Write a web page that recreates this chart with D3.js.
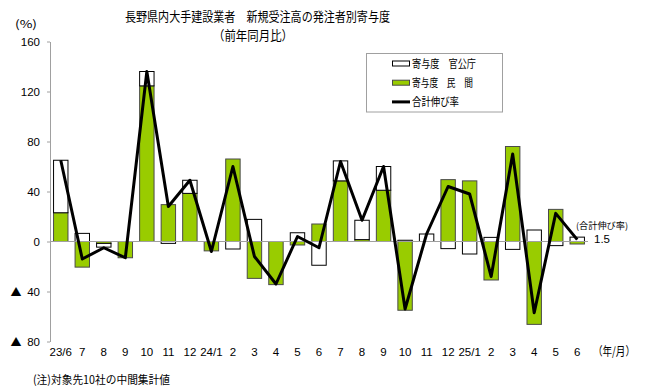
<!DOCTYPE html>
<html>
<head>
<meta charset="utf-8">
<script src="https://cdn.jsdelivr.net/npm/d3@7"></script>
<style>
body { margin: 0; background: #fff; }
svg { display: block; font-family: "Liberation Sans", "Noto Sans CJK JP", sans-serif; }
</style>
</head>
<body>
<div id="chart"></div>
<script>
// 年/月
const months = ["23/6", "7", "8", "9", "10", "11", "12", "24/1", "2", "3", "4", "5", "6",
    "7", "8", "9", "10", "11", "12", "25/1", "2", "3", "4", "5", "6"];
// 寄与度 民間
const privateContrib = [23, -20.5, -1.5, -13, 124.5, 29.5, 38.5, -7.5, 66, -29.5, -34.5, -2.8, 14,
    48.5, 1.5, 41, -55, 0, 49.5, 48.5, -30.8, 76, -66.3, 25.7, -2];
// 寄与度 官公庁
const publicContrib = [42, 6.5, -3, 0, 11.5, -1.5, 10.5, 0, -6, 17.7, 0, 7, -19,
    16, 15.5, 19, 1, 6, -5.7, -10, 3.3, -6.3, 9.2, -3.3, 3.5];
// 合計伸び率
const totalGrowth = [65, -14, -5, -13, 136, 28, 49, -8, 60, -12, -34, 4, -5,
    64, 17, 60, -54, 6, 44, 38, -28, 70, -57, 22.5, 1.5];
const yTicks = [-80, -40, 0, 40, 80, 120, 160];

const width = 648,
    height = 388,
    margin = { top: 41.5, right: 60, bottom: 46.5, left: 50 };

const svg = d3.select("#chart")
    .append("svg")
    .attr("width", width)
    .attr("height", height);

let x = d3.scaleBand()
    .domain(d3.range(months.length))
    .range([margin.left, width - margin.right])
    .paddingInner(0.33)
    .paddingOuter(0.165);

let y = d3.scaleLinear()
    .domain([-80, 160])
    .range([height - margin.bottom, margin.top]);

let rows = months.map((m, i) => ({ i: i, priv: privateContrib[i], pub: publicContrib[i] }));
let series = d3.stack()
    .keys(["priv", "pub"])
    .offset(d3.stackOffsetDiverging)(rows);

let fills = { priv: "#99cc00", pub: "#ffffff" };
let strokes = { priv: "#4a4a4a", pub: "#000000" };

for (let s of series) {
    svg.append("g")
        .selectAll("rect")
        .data(s)
        .join("rect")
        .attr("x", (d) => x(d.data.i))
        .attr("width", x.bandwidth())
        .attr("y", (d) => y(Math.max(d[0], d[1])))
        .attr("height", (d) => Math.abs(y(d[0]) - y(d[1])))
        .attr("fill", fills[s.key])
        .attr("stroke", strokes[s.key])
        .attr("stroke-width", 1);
}

// zero line
svg.append("line")
    .attr("x1", margin.left)
    .attr("x2", width - margin.right)
    .attr("y1", y(0))
    .attr("y2", y(0))
    .attr("stroke", "#a0a0a0");

// y axis
let yAxis = svg.append("g")
    .attr("transform", `translate(${margin.left},0)`)
    .call(d3.axisLeft(y)
        .tickValues(yTicks)
        .tickSize(3)
        .tickSizeOuter(0)
        .tickPadding(7)
        .tickFormat((d) => Math.abs(d)));
yAxis.select(".domain").attr("stroke", "#a0a0a0");
yAxis.selectAll(".tick line").attr("stroke", "#a0a0a0");
yAxis.selectAll("text")
    .attr("font-size", 11.5)
    .attr("font-family", "Liberation Sans")
    .attr("fill", "#000");
// negative values are written with ▲
yAxis.selectAll(".tick")
    .filter((d) => d < 0)
    .append("text")
    .attr("x", -34)
    .attr("dy", "0.38em")
    .attr("text-anchor", "middle")
    .attr("font-family", "Noto Sans CJK JP")
    .attr("font-size", 11)
    .attr("fill", "#000")
    .text("▲");

// x labels
let xAxis = svg.append("g")
    .attr("transform", `translate(0,${height - 40.5})`)
    .call(d3.axisBottom(x).tickSize(0).tickPadding(0).tickFormat((i) => months[i]));
xAxis.select(".domain").remove();
xAxis.selectAll("text")
    .attr("font-size", 11.5)
    .attr("font-family", "Liberation Sans")
    .attr("fill", "#000");

// total line
let line = d3.line()
    .x((d, i) => x(i) + x.bandwidth() / 2)
    .y((d) => y(d));

svg.append("path")
    .datum(totalGrowth)
    .attr("fill", "none")
    .attr("stroke", "#000")
    .attr("stroke-width", 3)
    .attr("stroke-linejoin", "round")
    .attr("d", line);

// titles
svg.append("text")
    .attr("x", 125)
    .attr("y", 21)
    .attr("font-family", "Noto Sans CJK JP")
    .attr("font-size", 13)
    .attr("textLength", 265)
    .attr("lengthAdjust", "spacingAndGlyphs")
    .text("長野県内大手建設業者　新規受注高の発注者別寄与度");

svg.append("text")
    .attr("x", 213)
    .attr("y", 40)
    .attr("font-family", "Noto Sans CJK JP")
    .attr("font-size", 13)
    .attr("textLength", 80)
    .attr("lengthAdjust", "spacingAndGlyphs")
    .text("（前年同月比）");

svg.append("text")
    .attr("x", 15)
    .attr("y", 28)
    .attr("font-family", "Noto Sans CJK JP")
    .attr("font-size", 11)
    .attr("textLength", 22)
    .attr("lengthAdjust", "spacingAndGlyphs")
    .text("(%)");

svg.append("text")
    .attr("x", 593)
    .attr("y", 356)
    .attr("font-family", "Noto Sans CJK JP")
    .attr("font-size", 12)
    .attr("textLength", 42)
    .attr("lengthAdjust", "spacingAndGlyphs")
    .text("（年/月）");

svg.append("text")
    .attr("x", 33)
    .attr("y", 384)
    .attr("font-family", "Noto Sans CJK JP")
    .attr("font-size", 11.5)
    .attr("textLength", 137)
    .attr("lengthAdjust", "spacingAndGlyphs")
    .text("(注)対象先10社の中間集計値");

// last value annotation
let last = totalGrowth.length - 1;
svg.append("text")
    .attr("x", x(last) + 6)
    .attr("y", 229)
    .attr("font-family", "Noto Sans CJK JP")
    .attr("font-size", 9)
    .attr("textLength", 52)
    .attr("lengthAdjust", "spacingAndGlyphs")
    .text("(合計伸び率)");
svg.append("text")
    .attr("x", x(last) + 24)
    .attr("y", y(totalGrowth[last]) + 3)
    .attr("font-size", 11.5)
    .text(totalGrowth[last].toFixed(1));

// legend
let legend = svg.append("g");
legend.append("rect")
    .attr("x", 366.5)
    .attr("y", 53.5)
    .attr("width", 136)
    .attr("height", 58.5)
    .attr("fill", "#fff")
    .attr("stroke", "#a0a0a0");

let legendItems = [
    { label: "寄与度　官公庁", type: "pub", len: 64 },
    { label: "寄与度　民　間", type: "priv", len: 61 },
    { label: "合計伸び率", type: "line", len: 47 },
];
legendItems.forEach((item, k) => {
    let cy = 63.5 + k * 19.2;
    if (item.type === "line") {
        legend.append("line")
            .attr("x1", 392)
            .attr("x2", 410)
            .attr("y1", cy)
            .attr("y2", cy)
            .attr("stroke", "#000")
            .attr("stroke-width", 3);
    } else {
        legend.append("rect")
            .attr("x", 392.5)
            .attr("y", cy - 2.5)
            .attr("width", 17)
            .attr("height", 5)
            .attr("fill", fills[item.type])
            .attr("stroke", strokes[item.type]);
    }
    legend.append("text")
        .attr("x", 412)
        .attr("y", cy + 4)
        .attr("font-family", "Noto Sans CJK JP")
        .attr("font-size", 11)
        .attr("textLength", item.len)
        .attr("lengthAdjust", "spacingAndGlyphs")
        .text(item.label);
});
</script>
</body>
</html>
